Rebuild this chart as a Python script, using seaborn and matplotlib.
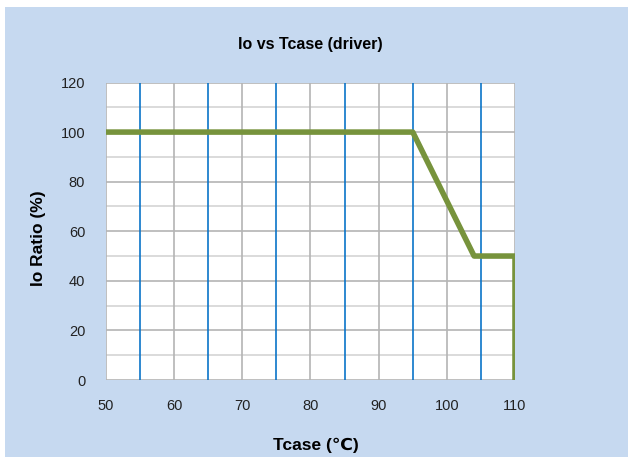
import matplotlib
matplotlib.use('Agg')
import matplotlib.pyplot as plt
import seaborn as sns
import pandas as pd
from matplotlib.patches import Rectangle

# Données de la courbe de derating
tcase = [50, 95, 104, 110, 110]
io_ratio = [100, 100, 50, 50, 0]
x_ticks = [50, 60, 70, 80, 90, 100, 110]
y_ticks = [0, 20, 40, 60, 80, 100, 120]
blue_lines = [55, 65, 75, 85, 95, 105]
minor_y = [10, 30, 50, 70, 90, 110]

df = pd.DataFrame({'Tcase': tcase, 'Io': io_ratio})

sns.set_style('white')
plt.rcParams['font.family'] = ['Liberation Sans', 'DejaVu Sans']

fig = plt.figure(figsize=(6.28, 4.57), dpi=100)
fig.patch.set_facecolor('white')
fig.patches.append(Rectangle((5 / 628, 0), 1, 450 / 457, transform=fig.transFigure,
                             facecolor='#c6d9f0', edgecolor='none', zorder=-5))

ax = fig.add_axes([106 / 628, 77 / 457, 409 / 628, 297.5 / 457])
ax.set_zorder(2)
ax.set_facecolor('white')

# Grille
for y in minor_y:
    ax.axhline(y, color='#d4d4d4', lw=1.2, zorder=1)
for y in y_ticks:
    ax.axhline(y, color='#b4b4b4', lw=1.2, zorder=1)
for x in x_ticks:
    ax.axvline(x, color='#b4b4b4', lw=1.2, zorder=1)
for x in blue_lines:
    ax.axvline(x, color='#0a74c8', lw=1.2, zorder=2)

sns.lineplot(data=df, x='Tcase', y='Io', sort=False, estimator=None,
             color='#77933c', lw=4, ax=ax, zorder=3)

ax.set_xlim(50, 110)
ax.set_ylim(0, 120)
ax.set_xticks(x_ticks)
ax.set_yticks(y_ticks)
for s in ax.spines.values():
    s.set_visible(False)
ax.tick_params(axis='both', length=4, width=1.2, color='#b4b4b4',
               labelsize=10.5, labelcolor='#222222', direction='out')
ax.tick_params(axis='x', pad=10)
ax.tick_params(axis='y', pad=11)

ax.set_xlabel('')
ax.set_ylabel('')
fig.text(310 / 628, 1 - 45 / 457, 'Io vs Tcase (driver)', ha='center', va='center',
         fontsize=11.5, fontweight='bold', color='black', zorder=3)
fig.text(316 / 628, 1 - 445 / 457, 'Tcase (℃)', ha='center', va='center',
         fontsize=12.5, fontweight='bold', color='black', zorder=3)
fig.text(38 / 628, 1 - 238 / 457, 'Io Ratio (%)', ha='center', va='center',
         rotation=90, fontsize=12.5, fontweight='bold', color='black', zorder=3)

plt.savefig('out.png', dpi=100, facecolor=fig.get_facecolor())
plt.close()
